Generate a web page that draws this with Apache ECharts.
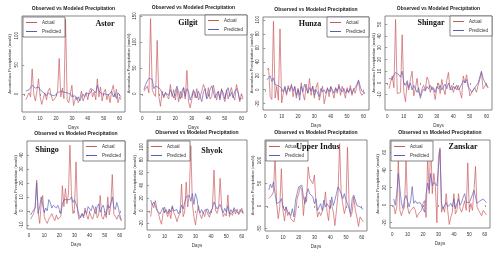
<!DOCTYPE html>
<html>
<head>
<meta charset="utf-8">
<script src="https://cdn.jsdelivr.net/npm/echarts@6/dist/echarts.min.js"></script>
<style>html,body{margin:0;padding:0;background:#fff}#c{width:500px;height:254px}</style>
</head>
<body>
<div id="c"></div>
<script>
const days = [1,2,3,4,5,6,7,8,9,10,11,12,13,14,15,16,17,18,19,20,21,22,23,24,25,26,27,28,29,30,31,32,33,34,35,36,37,38,39,40,41,42,43,44,45,46,47,48,49,50,51,52,53,54,55,56,57,58,59,60,61];
const xTicks = [0,10,20,30,40,50,60];

const astorActual = [-10,-8,2,-5,43,0,-12,5,26,-5,-18,-8,2,-10,5,10,-3,-12,-10,-5,5,61,-5,10,-8,128,-10,-15,0,15,-20,-10,-5,-15,-8,5,-12,-5,2,-10,5,10,-5,3,-10,26,-5,12,-12,2,8,-10,0,-15,5,15,-5,8,-15,-5,-10];
const astorPredicted = [5,6,7,8,15,12,10,9,12,7,5,3,0,-3,2,0,-2,0,-3,0,2,0,5,8,3,6,2,5,0,-5,-8,-3,-10,-5,-12,-5,0,-5,2,5,0,3,8,5,2,15,5,3,0,-3,0,2,-2,0,5,-5,0,-8,2,-2,-5];
const astorTicks = [0,50,100];

const gilgitActual = [5,8,15,2,145,8,0,-5,103,-5,-24,5,-8,3,-5,-10,18,-5,8,-12,10,-15,5,-8,12,-10,45,-15,-27,-10,5,-8,10,-12,-5,5,18,10,-8,12,-10,-5,17,2,-12,5,-8,10,-5,-15,8,-10,2,12,-5,-12,18,5,-15,0,-8];
const gilgitPredicted = [8,18,25,30,31,28,10,15,18,12,8,5,-5,2,5,-3,8,0,-8,5,15,2,-10,5,12,-5,10,5,-12,-3,8,0,-8,5,-5,-15,3,10,-10,-5,8,15,5,-8,0,5,-12,8,2,-10,5,12,-5,3,-8,5,10,2,-12,-8,-10];
const gilgitTicks = [0,50,100,150];

const hunzaActual = [28,31,-10,-14,98,-12,5,-15,87,-19,-5,3,-8,6,-3,8,-10,5,-12,2,-8,10,-5,-15,8,-5,16,-8,5,-12,3,10,-15,-5,5,-20,-8,3,-10,5,-3,-12,2,-5,8,-8,5,-3,-12,3,-5,6,-8,2,-5,5,12,-3,-8,-5,-5];
const hunzaPredicted = [14,17,20,12,17,7,7,6,8,2,-3,5,-5,3,0,6,-2,4,-8,0,-15,5,-3,8,2,-5,3,-2,5,-8,0,-5,-10,2,-3,0,-5,2,-3,4,0,-5,3,-2,5,0,-3,2,-5,0,-3,2,-5,0,3,8,14,5,-2,-3,-5];
const hunzaTicks = [-20,0,20,40,60,80,100];

const shingarActual = [-5,-4,6,-4,54,-9,-10,-8,41,-8,-16,0,-6,3,10,-11,-5,4,-8,-11,-5,-2,-6,5,2,-8,-3,-6,-14,-4,0,-9,3,-5,-10,2,9,-6,-2,-8,-3,-6,-2,-7,-13,6,0,7,-2,-11,-10,-6,-4,-8,-2,3,9,-5,-4,-1,-4];
const shingarPredicted = [4,4,3,7,9,10,7,5,10,0,-2,2,-4,0,-6,-2,-5,-8,-4,-13,-8,-5,-7,-3,-5,-2,-6,-4,-8,-3,-5,-2,-6,-3,-1,-5,0,-4,-6,-3,-5,-2,-6,-4,-5,2,0,3,-3,-5,-8,-6,-4,-3,0,5,10,4,3,-2,-4];
const shingarTicks = [-10,0,10,20,30,40,50];

const shingoActual = [-6,-5,-2,3,22,-1,-9,5,11,-4,-7,-9,-6,-4,-2,-5,-7,-3,-6,-6,-4,18,3,16,5,12,47,12,-2,2,35,0,-6,-4,-2,-5,2,-3,-6,-1,-4,-6,-2,3,-5,-3,11,-4,-6,-2,-5,10,-3,4,26,-2,-4,-6,-3,-5,-7];
const shingoPredicted = [-3,-1,0,2,20,-2,3,10,4,-1,2,0,8,6,2,4,3,2,4,1,-2,5,8,9,8,9,8,10,6,8,9,2,-3,-5,-2,-4,0,-2,3,2,0,4,1,-2,3,5,-1,2,4,0,-3,4,2,5,10,3,1,6,2,-3,-7];
const shingoTicks = [-10,0,10,20,30,40];

const shyokActual = [-9,11,5,16,3,-4,-14,-21,-4,6,-2,-9,1,-12,6,-3,-8,-17,-9,-4,42,-9,-2,45,6,27,102,11,-9,-22,-4,8,-6,-12,-3,-9,2,-5,-10,-3,4,64,1,-4,5,51,6,-9,-4,-8,25,-9,-3,-7,2,-5,3,-6,-2,4,-4];
const shyokPredicted = [17,9,14,8,1,4,-5,-2,5,-3,2,-4,3,-2,8,0,-3,2,-5,0,9,3,6,22,19,24,15,27,10,27,19,1,-3,2,-4,1,-2,3,-5,0,4,14,8,3,6,10,2,-3,4,-2,8,-5,2,-3,5,0,3,-4,2,1,-4];
const shyokTicks = [-20,0,20,40,60,80,100];

const upperIndusActual = [16,20,24,31,112,5,-28,-2,82,-10,-33,-2,-21,-13,-28,-32,-35,-17,16,27,42,35,-21,20,9,86,60,57,49,68,5,-24,-13,-21,-17,-2,31,-13,-32,13,1,-13,-43,-10,27,137,27,5,-17,-2,129,5,-24,-13,20,-10,-24,-45,-24,-21,-35];
const upperIndusPredicted = [35,48,40,53,27,5,1,9,16,-2,-10,-2,-13,-10,-21,-6,-24,13,27,42,38,46,20,5,27,38,27,31,20,5,16,-10,-2,5,-10,13,-2,5,9,-6,20,1,13,27,42,35,27,16,27,13,5,-6,-17,16,24,20,1,5,-2,-6,-8];
const upperIndusTicks = [-50,0,50,100];

const zanskarActual = [0,-10,-2,52,-6,-12,-6,-2,51,-2,-10,-6,-8,-2,-6,-14,-10,-8,-6,2,5,-14,55,13,73,13,36,21,-20,55,65,-8,-2,-8,13,-6,-22,-14,-8,13,-10,-6,13,-4,-8,-2,5,-6,48,-8,2,-6,15,44,-2,-6,-8,-12,-6,-8,-11];
const zanskarPredicted = [7,0,13,36,19,3,-4,7,11,9,-2,5,21,2,5,2,0,3,0,-2,-8,13,25,17,36,22,26,28,22,21,63,2,-4,-2,3,-2,0,2,-2,7,-4,2,7,0,3,9,13,3,2,3,7,9,17,15,2,3,5,3,7,9,3];
const zanskarTicks = [-20,0,20,40,60];

const panelNames = ['Astor','Gilgit','Hunza','Shingar','Shingo','Shyok','Upper Indus','Zanskar'];
const chartTitle = 'Observed vs Modeled Precipitation';
const xName = 'Days';
const yName = 'Anomalous Precipitation (mm/d)';

// layout (positions only)
const layout = [
  {grid:{left:22,top:16,width:103,height:96}, ymin:-31, ymax:134, leg:{left:23,top:17}, lab:[105,24], nameGap:10},
  {grid:{left:140,top:15,width:107,height:97}, ymin:-35, ymax:152, leg:{right:253,top:15}, lab:[188,23], nameGap:8},
  {grid:{left:263,top:17,width:106,height:93}, ymin:-29, ymax:104, leg:{right:131,top:17}, lab:[310,24], nameGap:9},
  {grid:{left:385,top:16,width:107,height:94}, ymin:-23, ymax:57, leg:{right:8,top:16}, lab:[431,23], nameGap:9},
  {grid:{left:27,top:141,width:98,height:88}, ymin:-13, ymax:50, leg:{right:375,top:141}, lab:[47,150], nameGap:9},
  {grid:{left:147,top:140,width:100,height:90}, ymin:-30, ymax:111, leg:{left:148,top:141}, lab:[212,151], nameGap:10},
  {grid:{left:265,top:140,width:102,height:91}, ymin:-55, ymax:145, leg:{left:266,top:141}, lab:[318,147], nameGap:10},
  {grid:{left:390,top:140,width:100,height:88}, ymin:-26, ymax:74, leg:{left:391,top:141}, lab:[463,147], nameGap:10}
];
const actuals = [astorActual,gilgitActual,hunzaActual,shingarActual,shingoActual,shyokActual,upperIndusActual,zanskarActual];
const predicteds = [astorPredicted,gilgitPredicted,hunzaPredicted,shingarPredicted,shingoPredicted,shyokPredicted,upperIndusPredicted,zanskarPredicted];
const yTicks = [astorTicks,gilgitTicks,hunzaTicks,shingarTicks,shingoTicks,shyokTicks,upperIndusTicks,zanskarTicks];

const RED = '#c9585c';
const BLUE = '#5c5cb8';
const FONT = 'Liberation Sans, Arial, sans-serif';

const grids=[], xAxes=[], yAxes=[], series=[], legends=[], graphics=[];
layout.forEach((L,i)=>{
  grids.push(Object.assign({show:true, borderColor:'#555', borderWidth:0.7, backgroundColor:'#fff'}, L.grid));
  xAxes.push({type:'value', gridIndex:i, min:-1.4, max:63.4,
    name:xName, nameLocation:'middle', nameGap:13, nameTextStyle:{fontSize:4.5, color:'#333', fontFamily:FONT},
    axisLine:{show:false}, splitLine:{show:false},
    axisTick:{show:true, length:2, lineStyle:{color:'#555', width:0.6}, customValues:xTicks},
    axisLabel:{fontSize:4.5, color:'#333', margin:4, fontFamily:FONT, customValues:xTicks}});
  yAxes.push({type:'value', gridIndex:i, min:L.ymin, max:L.ymax,
    name:yName, nameLocation:'middle', nameGap:L.nameGap, nameRotate:90, nameTextStyle:{fontSize:4.2, color:'#333', fontFamily:FONT},
    axisLine:{show:false}, splitLine:{show:false},
    axisTick:{show:true, length:2, lineStyle:{color:'#555', width:0.6}, customValues:yTicks[i]},
    axisLabel:{fontSize:4.5, color:'#333', rotate:90, margin:3, fontFamily:FONT, customValues:yTicks[i]}});
  series.push({name:'Actual', type:'line', xAxisIndex:i, yAxisIndex:i, symbol:'none', silent:true,
    data:days.map((d,j)=>[d, actuals[i][j]]), lineStyle:{color:RED, width:0.8, opacity:0.85}, itemStyle:{color:RED}});
  series.push({name:'Predicted', type:'line', xAxisIndex:i, yAxisIndex:i, symbol:'none', silent:true,
    data:days.map((d,j)=>[d, predicteds[i][j]]), lineStyle:{color:BLUE, width:0.8, opacity:0.85}, itemStyle:{color:BLUE}});
  legends.push(Object.assign({data:[
      {name:'Actual', icon:'rect', itemStyle:{color:RED, borderWidth:0}},
      {name:'Predicted', icon:'rect', itemStyle:{color:BLUE, borderWidth:0}}],
    orient:'vertical', itemWidth:11, itemHeight:1, itemGap:4,
    padding:[3,4,3,3], borderColor:'#555', borderWidth:0.7, backgroundColor:'#fff', selectedMode:false,
    textStyle:{fontSize:4.5, color:'#333', fontFamily:FONT}}, L.leg));
  const g = L.grid;
  graphics.push({type:'text', x:g.left+g.width/2, y:g.top-7, style:{text:chartTitle, font:'bold 5px '+FONT, fill:'#222', textAlign:'center', textVerticalAlign:'middle'}});
  graphics.push({type:'text', x:L.lab[0], y:L.lab[1], z:10, style:{text:panelNames[i], font:'bold 8px "Liberation Serif", serif', fill:'#111', textAlign:'center', textVerticalAlign:'middle'}});
});

const chart = echarts.init(document.getElementById('c'), null, {renderer:'canvas'});
chart.setOption({
  animation:false,
  backgroundColor:'#fff',
  grid:grids, xAxis:xAxes, yAxis:yAxes, series:series, legend:legends,
  graphic:graphics
});
</script>
</body>
</html>
